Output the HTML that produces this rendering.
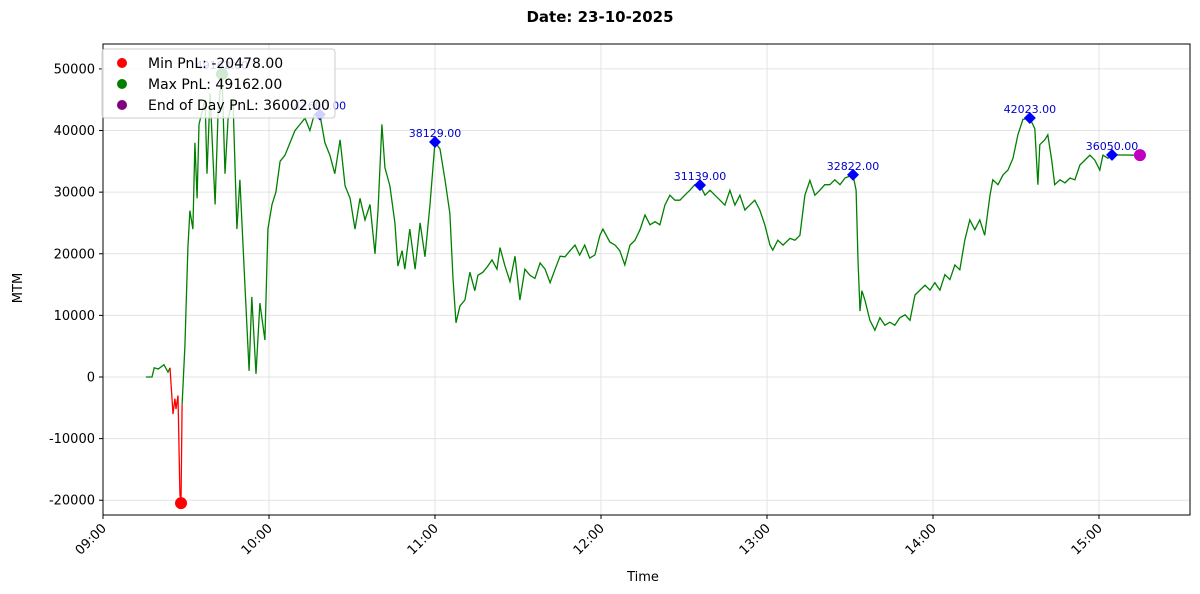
<!DOCTYPE html>
<html><head><meta charset="utf-8"><style>
html,body{margin:0;padding:0;background:#fff;}
svg{display:block;font-family:"DejaVu Sans","Liberation Sans",sans-serif;}
</style></head><body>
<svg id="chart" width="1200" height="594" viewBox="0 0 1200 594">
<text x="600" y="22" text-anchor="middle" font-size="15" font-weight="bold">Date: 23-10-2025</text>
<g id="grid"></g><g id="plot"></g><g id="axes"></g><g id="legendg"></g>
<text x="643" y="581" text-anchor="middle" font-size="13">Time</text>
<text transform="translate(22,288) rotate(-90)" text-anchor="middle" font-size="13">MTM</text>
</svg>
<script>
const times=[15.5,17.7,18.5,20,22,23.5,24.2,25.3,26.0,26.4,27.1,27.8,28.2,28.6,29.6,30.7,31.4,32.5,33.2,34.0,34.7,35.8,36.9,37.6,38.7,40.5,41.6,43.0,44.1,45.2,47.0,48.4,49.5,51.3,52.8,53.8,55.3,56.7,58.5,59.6,61.1,62.5,64.0,65.8,67.6,69.4,71.2,73.0,74.8,76.3,78.4,80.2,82.0,83.8,85.7,87.5,89.3,91.1,92.9,94.7,96.5,98.3,99.4,100.8,101.9,103.7,105.5,106.6,108.1,109.1,110.9,112.8,114.6,116.4,118.2,120.0,121.8,123.6,125.4,126.5,127.6,129.0,130.8,132.6,134.4,135.5,137.3,139.1,140.6,142.4,143.5,145.3,147.1,148.9,150.7,152.5,154.3,156.1,158.0,159.8,161.6,163.4,165.2,167.0,168.8,170.6,172.3,174.1,175.9,177.8,179.6,180.7,183.2,185.1,186.8,188.6,190.5,192.3,194.1,195.9,197.7,199.5,201.3,203.1,204.9,206.7,208.5,210.3,212.1,213.9,215.8,217.6,219.4,221.2,223.0,224.8,226.6,228.4,230.2,232.0,233.8,235.6,237.4,239.2,241.1,242.1,243.9,245.8,248.3,250.1,251.9,253.7,255.5,257.3,259.1,260.9,262.7,264.5,266.4,268.2,271.1,272.2,272.9,273.6,274.3,275.4,277.2,279.0,280.8,282.6,284.4,286.2,288.0,289.9,291.7,293.5,295.3,297.1,298.9,300.7,302.5,304.3,306.1,307.9,309.7,311.5,313.3,315.1,316.9,318.7,320.6,321.6,323.5,325.3,327.1,328.9,330.7,332.5,335.0,336.8,337.9,338.6,340.4,341.5,342.9,344.0,345.9,347.7,349.5,351.3,353.1,354.9,356.7,358.5,360.3,361.4,363.2,364.7,374.8];
const pnl=[0,0,1500,1300,2000,800,1500,-6000,-3500,-5200,-3000,-19000,-20478,-4500,5000,21000,27000,24000,38000,29000,41000,43000,45000,33000,46000,28000,43000,49162,33000,42000,45000,24000,32000,15000,1000,13000,500,12000,6000,24000,28000,30000,35000,36000,38000,40000,41000,42000,40000,42500,42600,38000,36000,33000,38500,31000,29000,24000,29000,25500,28000,20000,27000,41000,34000,31000,25000,18000,20500,17500,24000,17500,25000,19500,28000,38129,37000,32000,26500,16000,8800,11500,12500,17000,14000,16500,17000,18000,19000,17500,21000,18000,15500,19600,12500,17500,16500,16000,18500,17500,15300,17500,19600,19500,20500,21400,19800,21400,19300,19800,23000,24000,21900,21400,20500,18200,21400,22200,23900,26300,24700,25200,24700,27900,29500,28700,28700,29500,30300,31200,31139,29500,30300,29500,28700,27900,30300,27900,29500,27100,27900,28700,27100,24700,21400,20600,22200,21400,22500,22200,23000,29500,31900,29500,30300,31200,31200,32000,31200,32300,32822,30300,19000,10700,14000,12500,9200,7600,9600,8400,8900,8400,9600,10100,9200,13300,14100,14900,14100,15300,14100,16600,15800,18200,17400,22200,25500,23900,25500,23000,29500,32000,31200,32800,33600,35500,39300,41800,42023,40300,31200,37700,38500,39300,35200,31200,32000,31500,32300,32000,34400,35200,36000,35200,33600,36000,35500,36050,36002];
const peakTimes=[78.4,120.0,215.8,271.1,335.0,364.7];
const yTicks=[-20000,-10000,0,10000,20000,30000,40000,50000];
const xTicks=[0,60,120,180,240,300,360];
const xTickLabels=["09:00","10:00","11:00","12:00","13:00","14:00","15:00"];
const redRange=[6,13];
const NS="http://www.w3.org/2000/svg";
const L=103,R=1190,T=44,B=515;
const xs=m=>L+m*166/60;
const ys=v=>377-v*0.006162;
function mk(p,tag,at){const e=document.createElementNS(NS,tag);for(const k in at)e.setAttribute(k,at[k]);p.appendChild(e);return e;}
function nearestIdx(t){let b=0;times.forEach((v,i)=>{if(Math.abs(v-t)<Math.abs(times[b]-t))b=i;});return b;}
const grid=document.getElementById('grid'),plot=document.getElementById('plot'),axes=document.getElementById('axes'),lg=document.getElementById('legendg');
yTicks.forEach(v=>{const y=ys(v);
 const g=mk(grid,'line',{x1:L,x2:R,y1:y,y2:y,stroke:'#e3e3e3','stroke-width':1});
 
 
 mk(axes,'line',{x1:L-4,x2:L,y1:y,y2:y,stroke:'#000'});
 const t=mk(axes,'text',{x:L-8,y:y+4.5,'text-anchor':'end','font-size':13});t.textContent=v;
 
 
});
xTicks.forEach((m,i)=>{const x=xs(m);
 const g=mk(grid,'line',{x1:x,x2:x,y1:T,y2:B,stroke:'#e3e3e3','stroke-width':1});
 
 
 mk(axes,'line',{x1:x,x2:x,y1:B,y2:B+4,stroke:'#000'});
 const t=mk(axes,'text',{transform:`translate(${x+4},${B+14}) rotate(-45)`,'text-anchor':'end','font-size':13});t.textContent=xTickLabels[i];
 
 
});
mk(axes,'rect',{x:L,y:T,width:R-L,height:B-T,fill:'none',stroke:'#000','stroke-width':1});
function pts(a,b){let s='';for(let i=a;i<=b;i++)s+=xs(times[i]).toFixed(1)+','+ys(pnl[i]).toFixed(1)+' ';return s;}
let l1=mk(plot,'polyline',{points:pts(0,redRange[0]),fill:'none',stroke:'#008000','stroke-width':1.3});


let l2=mk(plot,'polyline',{points:pts(redRange[0],redRange[1]),fill:'none',stroke:'#ff0000','stroke-width':1.3});


let l3=mk(plot,'polyline',{points:pts(redRange[1],times.length-1),fill:'none',stroke:'#008000','stroke-width':1.3});


peakTimes.forEach(pt=>{const i=nearestIdx(pt);const x=xs(times[i]),y=ys(pnl[i]);
 const d=mk(plot,'polygon',{points:`${x},${y-6} ${x+6},${y} ${x},${y+6} ${x-6},${y}`,fill:'#0000ff'});
 
 
 const t=mk(plot,'text',{x:x,y:y-5,'text-anchor':'middle','font-size':11,fill:'#0000cc'});t.textContent=pnl[i].toFixed(2);
 
 
});
let imin=0,imax=0;pnl.forEach((v,i)=>{if(v<pnl[imin])imin=i;if(v>pnl[imax])imax=i;});
let c1=mk(plot,'circle',{cx:xs(times[imin]),cy:ys(pnl[imin]),r:6,fill:'#ff0000'});


let c2=mk(plot,'circle',{cx:xs(times[imax]),cy:ys(pnl[imax]),r:6,fill:'#008000'});


let tm=mk(plot,'text',{x:xs(times[imax]),y:ys(pnl[imax])-5,'text-anchor':'middle','font-size':11,fill:'#0000cc'});tm.textContent=pnl[imax].toFixed(2);


const ie=pnl.length-1;
let c3=mk(plot,'circle',{cx:xs(times[ie]),cy:ys(pnl[ie]),r:6,fill:'#c000c0'});


let box=mk(lg,'rect',{x:102,y:49,width:233,height:69,rx:3,fill:'rgba(255,255,255,0.82)',stroke:'#cccccc'});


const leg=[['#ff0000','Min PnL: '+pnl[imin].toFixed(2)],['#008000','Max PnL: '+pnl[imax].toFixed(2)],['#800080','End of Day PnL: '+pnl[ie].toFixed(2)]];
leg.forEach((e,i)=>{const y=63+i*21;
 const c=mk(lg,'circle',{cx:122,cy:y,r:5,fill:e[0]});
 
 
 const t=mk(lg,'text',{x:148,y:y+5,'font-size':14});t.textContent=e[1];
 
 
});
</script>
</body></html>
